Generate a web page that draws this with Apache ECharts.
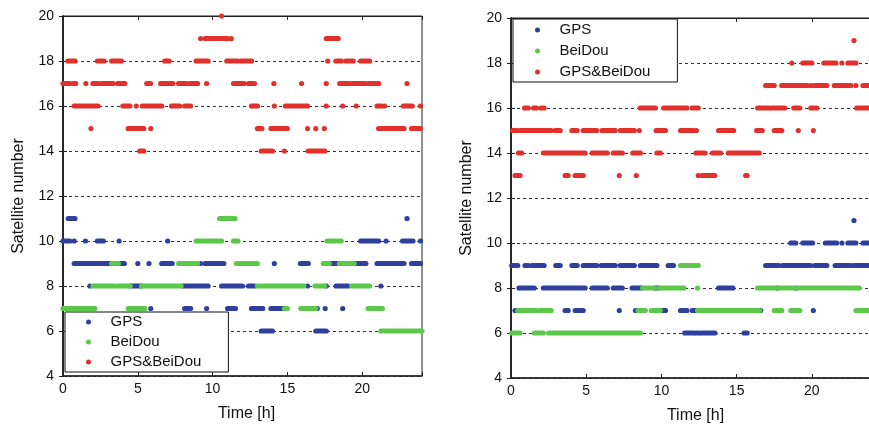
<!DOCTYPE html>
<html>
<head>
<meta charset="utf-8">
<style>
  html, body { margin: 0; padding: 0; background: #fff; }
  #chart { width: 869px; height: 432px; }
</style>
<script src="https://cdn.jsdelivr.net/npm/echarts@6/dist/echarts.min.js"></script>
</head>
<body>
<div id="chart"></div>
<script>
// every run is [start hour, end hour, satellite number]
var seriesNames = ['GPS', 'BeiDou', 'GPS&BeiDou'];
var seriesColors = ['#2e3f9e', '#5cc84a', '#e2302b'];
var xTickValues = [0, 5, 10, 15, 20];
var yTickValues = [4, 6, 8, 10, 12, 14, 16, 18, 20];

// left panel
var leftGps = [
  [0.35, 0.8, 11], [23.0, 23.0, 11],
  [0, 0.47, 10], [0.75, 0.75, 10], [1.5, 1.5, 10], [2.3, 2.7, 10], [3.75, 3.75, 10], [7.0, 7.0, 10],
  [19.9, 21.1, 10], [21.6, 21.6, 10], [22.7, 23.4, 10], [23.9, 23.9, 10],
  [0.75, 3.25, 9], [3.8, 4.1, 9], [5.0, 5.0, 9], [5.75, 5.75, 9], [6.6, 7.3, 9], [9.2, 9.2, 9],
  [9.5, 10.75, 9], [14.13, 14.13, 9], [15.87, 16.4, 9], [17.8, 18.4, 9], [19.47, 20.25, 9],
  [21.0, 22.8, 9], [23.3, 23.9, 9],
  [1.8, 1.8, 8], [4.5, 5.25, 8], [8.0, 9.7, 8], [10.6, 12.0, 8], [12.4, 12.8, 8], [16.35, 16.35, 8],
  [17.6, 17.6, 8], [18.25, 19.07, 8], [21.25, 21.25, 8],
  [5.87, 5.87, 7], [8.13, 8.53, 7], [9.6, 9.6, 7], [11.0, 11.53, 7], [12.6, 13.35, 7], [13.9, 14.8, 7],
  [17.0, 17.0, 7], [17.53, 17.53, 7], [18.7, 18.7, 7],
  [13.25, 14.0, 6], [16.9, 17.6, 6]
];
var leftBeidou = [
  [10.47, 11.5, 11],
  [8.9, 10.6, 10], [11.4, 11.7, 10], [17.65, 18.6, 10],
  [3.25, 3.7, 9], [7.73, 9.0, 9], [11.6, 13.0, 9], [17.4, 17.8, 9], [18.47, 19.47, 9],
  [2.0, 3.4, 8], [3.6, 4.5, 8], [5.25, 7.9, 8], [13.0, 16.1, 8], [16.85, 17.5, 8], [19.3, 20.5, 8],
  [0, 2.13, 7], [4.36, 5.47, 7], [14.8, 15.0, 7], [15.9, 16.9, 7], [20.4, 21.35, 7],
  [21.25, 24, 6]
];
var leftBoth = [
  [10.6, 10.6, 20],
  [9.2, 9.2, 19], [9.5, 11.0, 19], [11.25, 11.25, 19], [17.6, 18.4, 19],
  [0.33, 0.8, 18], [2.3, 2.75, 18], [3.25, 3.9, 18], [6.8, 7.1, 18], [8.9, 9.7, 18], [10.95, 11.7, 18],
  [11.9, 12.6, 18], [17.7, 17.7, 18], [18.25, 18.6, 18], [18.9, 19.4, 18], [19.9, 20.5, 18],
  [0, 0.47, 17], [0.7, 0.85, 17], [1.53, 1.53, 17], [2.0, 2.4, 17], [2.6, 3.35, 17], [3.65, 4.13, 17],
  [5.6, 5.85, 17], [6.53, 7.35, 17], [7.73, 8.25, 17], [8.47, 9.0, 17], [9.6, 9.6, 17], [11.4, 12.1, 17],
  [12.4, 12.8, 17], [14.1, 14.1, 17], [15.95, 15.95, 17], [17.6, 17.6, 17], [18.5, 19.1, 17],
  [19.3, 20.2, 17], [20.4, 21.1, 17], [23.0, 23.0, 17],
  [0.75, 2.35, 16], [4.0, 4.47, 16], [4.9, 4.9, 16], [5.3, 6.6, 16], [7.25, 7.8, 16], [8.13, 8.53, 16],
  [12.6, 13.0, 16], [14.13, 14.13, 16], [14.87, 16.35, 16], [17.6, 17.6, 16], [18.7, 18.7, 16],
  [19.6, 19.6, 16], [21.0, 21.3, 16], [21.5, 21.5, 16], [22.75, 23.35, 16], [23.9, 23.9, 16],
  [1.87, 1.87, 15], [4.36, 5.4, 15], [5.87, 5.87, 15], [13.0, 13.3, 15], [13.9, 15.0, 15],
  [16.35, 16.35, 15], [16.9, 16.9, 15], [17.47, 17.47, 15], [21.1, 22.8, 15], [23.3, 23.9, 15],
  [5.13, 5.4, 14], [13.25, 14.0, 14], [14.8, 14.8, 14], [16.4, 17.5, 14]
];

// right panel
var rightGps = [
  [22.8, 22.8, 11],
  [18.6, 18.93, 10], [19.4, 20.05, 10], [20.9, 21.65, 10], [22.0, 22.0, 10], [22.4, 22.93, 10], [23.4, 24, 10],
  [0.05, 0.45, 9], [0.93, 1.15, 9], [1.4, 2.2, 9], [2.98, 3.27, 9], [4.05, 4.4, 9], [4.8, 5.7, 9],
  [6.0, 6.93, 9], [7.27, 8.2, 9], [8.6, 9.2, 9], [9.33, 9.7, 9], [10.45, 10.8, 9], [16.93, 17.8, 9],
  [18.05, 19.8, 9], [19.93, 19.93, 9], [20.2, 21.0, 9], [21.55, 22.6, 9], [22.8, 23.55, 9], [23.7, 24, 9],
  [0.53, 1.55, 8], [2.15, 4.93, 8], [5.4, 6.4, 8], [6.8, 7.4, 8], [8.05, 8.67, 8], [9.6, 9.82, 8],
  [13.8, 14.75, 8], [17.7, 17.7, 8], [18.93, 18.93, 8],
  [0.27, 0.45, 7], [3.6, 3.8, 7], [4.27, 4.8, 7], [7.2, 7.2, 7], [8.27, 8.45, 7], [9.93, 10.27, 7],
  [11.27, 11.7, 7], [12.05, 12.4, 7], [16.6, 16.6, 7], [20.1, 20.1, 7],
  [11.55, 12.15, 6], [12.3, 12.53, 6], [12.7, 13.55, 6], [15.5, 15.7, 6]
];
var rightBeidou = [
  [11.27, 12.45, 9],
  [8.75, 9.5, 8], [9.82, 11.5, 8], [12.4, 12.4, 8], [16.4, 17.6, 8], [17.8, 18.8, 8], [19.1, 23.15, 8],
  [0.45, 1.7, 7], [1.93, 2.67, 7], [8.45, 8.93, 7], [9.33, 9.93, 7], [12.4, 16.53, 7], [17.5, 18.0, 7],
  [18.6, 19.2, 7], [22.93, 24, 7],
  [0.05, 0.6, 6], [1.55, 2.15, 6], [2.5, 8.6, 6]
];
var rightBoth = [
  [22.8, 22.8, 19],
  [18.67, 18.67, 18], [19.4, 20.0, 18], [20.8, 21.6, 18], [22.0, 22.0, 18], [22.4, 22.93, 18],
  [16.93, 17.5, 17], [18.0, 18.93, 17], [19.1, 19.7, 17], [19.93, 19.93, 17], [20.15, 21.0, 17],
  [21.5, 22.6, 17], [22.93, 22.93, 17], [23.4, 24, 17],
  [0.9, 1.15, 16], [1.5, 1.7, 16], [2.0, 2.2, 16], [8.6, 9.6, 16], [10.15, 11.7, 16], [12.05, 12.45, 16],
  [16.4, 17.15, 16], [17.33, 18.2, 16], [18.8, 19.2, 16], [19.93, 20.33, 16], [22.98, 24, 16],
  [0.1, 0.4, 15], [0.6, 2.67, 15], [2.93, 3.27, 15], [4.05, 4.4, 15], [4.8, 5.7, 15], [6.05, 6.93, 15],
  [7.27, 8.2, 15], [8.53, 8.53, 15], [9.65, 10.27, 15], [11.27, 12.15, 15], [12.33, 12.33, 15],
  [13.8, 14.8, 15], [16.33, 16.7, 15], [17.5, 18.0, 15], [19.1, 19.1, 15], [20.1, 20.1, 15],
  [0.5, 0.7, 14], [2.15, 4.93, 14], [5.4, 6.4, 14], [6.8, 7.4, 14], [8.1, 8.6, 14], [9.7, 9.93, 14],
  [12.3, 12.9, 14], [13.4, 13.93, 14], [14.45, 16.5, 14],
  [0.27, 0.6, 13], [3.6, 3.8, 13], [4.27, 4.8, 13], [7.2, 7.2, 13], [8.33, 8.33, 13], [12.45, 12.45, 13],
  [12.7, 13.55, 13], [15.6, 15.7, 13]
];

var panelData = [[leftGps, leftBeidou, leftBoth], [rightGps, rightBeidou, rightBoth]];

var chart = echarts.init(document.getElementById('chart'));
var font = "'Liberation Sans', Arial, Helvetica, sans-serif";

// one run of epochs -> a bar with round ends (looks like dense dots)
function renderRun(params, api) {
  var a = api.coord([api.value(0), api.value(2)]);
  var b = api.coord([api.value(1), api.value(2)]);
  var r = 2.6;
  return {
    type: 'rect',
    shape: { x: a[0] - r, y: a[1] - r, width: b[0] - a[0] + 2 * r, height: 2 * r, r: r },
    style: { fill: api.visual('color') }
  };
}

var grids = [
  { left: 63, top: 16, width: 359, height: 360 },
  { left: 511, top: 18, width: 361, height: 360 }
];
var xAxes = [], yAxes = [], series = [], legends = [];
var legendPos = [
  { left: 65, top: 312, padding: [2, 27, 2, 21], gap: 4 },
  { left: 513, top: 19, padding: [3, 27, 2, 22], gap: 5 }
];

for (var p = 0; p < 2; p++) {
  grids[p].show = true;
  grids[p].borderColor = '#222';
  grids[p].borderWidth = 1;
  grids[p].backgroundColor = '#fff';
  grids[p].outerBoundsMode = 'none';
  grids[p].containLabel = false;

  // bottom x axis with labels
  xAxes.push({
    type: 'value', gridIndex: p, position: 'bottom', min: 0, max: 24, interval: 5,
    name: 'Time [h]', nameLocation: 'middle', nameGap: 30,
    nameTextStyle: { fontSize: 16, color: '#111', fontFamily: font, padding: [0, 0, 0, 8] },
    axisLine: { show: true, lineStyle: { color: '#222', width: 1.5 } },
    axisTick: { inside: true, length: 4, lineStyle: { color: '#222' } },
    axisLabel: { fontSize: 14, color: '#111', margin: 6, fontFamily: font,
      formatter: function (v) { return xTickValues.indexOf(v) >= 0 ? String(v) : ''; } },
    splitLine: { show: false }
  });
  // top mirror axis, ticks only
  xAxes.push({
    type: 'value', gridIndex: p, position: 'top', min: 0, max: 24, interval: 5,
    axisLine: { show: true, lineStyle: { color: '#222', width: 1 } },
    axisTick: { inside: true, length: 4, lineStyle: { color: '#222' } },
    axisLabel: { show: false }, splitLine: { show: false }
  });
  yAxes.push({
    type: 'value', gridIndex: p, position: 'left', min: 4, max: 20, interval: 2,
    name: 'Satellite number', nameLocation: 'middle', nameGap: 36,
    nameTextStyle: { fontSize: 16, color: '#111', fontFamily: font },
    axisLine: { show: true, lineStyle: { color: '#222', width: 1.5 } },
    axisTick: { inside: true, length: 4, lineStyle: { color: '#222' } },
    axisLabel: { fontSize: 14, color: '#111', margin: 9, fontFamily: font,
      formatter: function (v) { return yTickValues.indexOf(v) >= 0 ? String(v) : ''; } },
    splitLine: { show: true, lineStyle: { color: '#333', width: 1, type: [3, 3] } }
  });
  yAxes.push({
    type: 'value', gridIndex: p, position: 'right', min: 4, max: 20, interval: 2,
    axisLine: { show: true, lineStyle: { color: '#222', width: 1.5 } },
    axisTick: { inside: true, length: 4, lineStyle: { color: '#222' } },
    axisLabel: { show: false }, splitLine: { show: false }
  });

  for (var s = 0; s < 3; s++) {
    series.push({
      name: seriesNames[s],
      type: 'custom',
      xAxisIndex: p * 2,
      yAxisIndex: p * 2,
      itemStyle: { color: seriesColors[s] },
      encode: { x: [0, 1], y: 2 },
      clip: false,
      data: panelData[p][s],
      renderItem: renderRun,
      z: 2 + s
    });
  }

  legends.push({
    orient: 'vertical',
    left: legendPos[p].left,
    top: legendPos[p].top,
    data: seriesNames,
    icon: 'circle',
    itemWidth: 34,
    itemHeight: 5,
    itemGap: legendPos[p].gap,
    padding: legendPos[p].padding,
    backgroundColor: '#fff',
    borderColor: '#111',
    borderWidth: 1,
    selectedMode: false,
    z: 10,
    textStyle: { fontSize: 15, lineHeight: 16, color: '#111', fontFamily: font }
  });
}

chart.setOption({
  animation: false,
  backgroundColor: '#fff',
  grid: grids,
  xAxis: xAxes,
  yAxis: yAxes,
  legend: legends,
  series: series
});
</script>
</body>
</html>
